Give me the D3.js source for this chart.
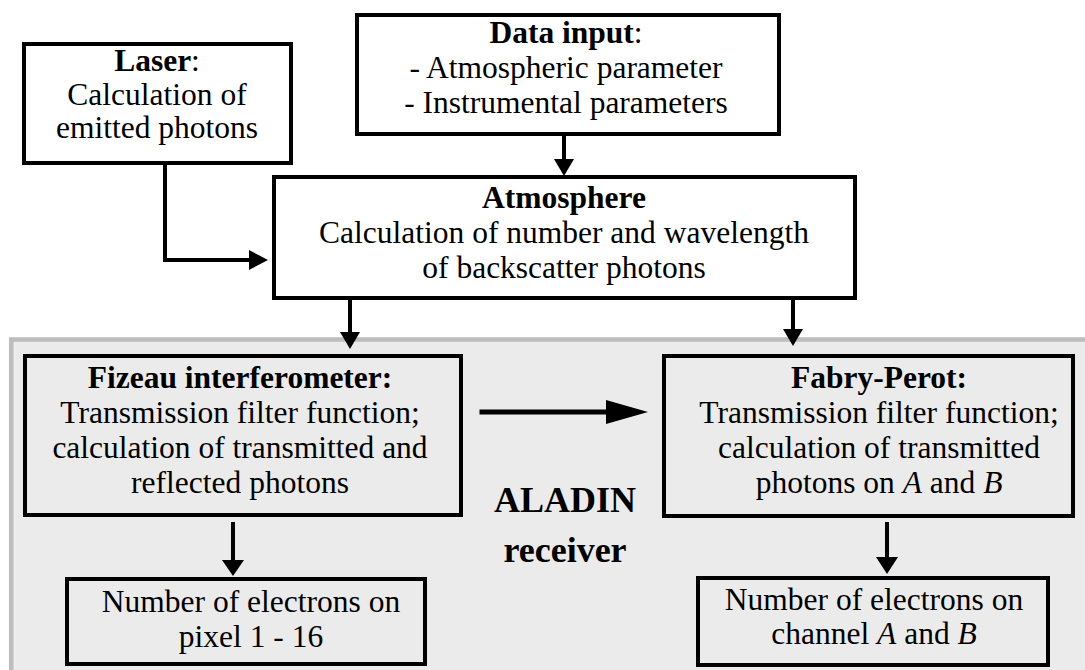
<!DOCTYPE html>
<html>
<head>
<meta charset="utf-8">
<script src="https://cdn.jsdelivr.net/npm/d3@7"></script>
<style>
  html, body { margin: 0; padding: 0; background: #fff; }
  svg { display: block; }
</style>
</head>
<body>
<svg id="chart" width="1085" height="670"></svg>
<script>
// boxes of the flow chart (** = bold, * = italic)
var boxIds = ["laser", "data", "atm", "fizeau", "fp", "pixel", "channel"];
var boxLines = {
	"laser":   ["**Laser**:", "Calculation of", "emitted photons"],
	"data":    ["**Data input**:", "- Atmospheric parameter", "- Instrumental parameters"],
	"atm":     ["**Atmosphere**", "Calculation of number and wavelength", "of backscatter photons"],
	"fizeau":  ["**Fizeau interferometer:**", "Transmission filter function;", "calculation of transmitted and", "reflected photons"],
	"fp":      ["**Fabry-Perot:**", "Transmission filter function;", "calculation of transmitted", "photons on *A* and *B*"],
	"pixel":   ["Number of electrons on", "pixel 1 - 16"],
	"channel": ["Number of electrons on", "channel *A* and *B*"]
};
var receiverBox = ["fizeau", "fp", "pixel", "channel"];
var links = [
	["data", "atm"],
	["laser", "atm"],
	["atm", "fizeau"],
	["atm", "fp"],
	["fizeau", "fp"],
	["fizeau", "pixel"],
	["fp", "channel"]
];
var groupLabel = ["ALADIN", "receiver"];

var FONT = "'Liberation Serif', Tinos, 'Times New Roman', Times, serif";

// layout (outer edges of the boxes, text centre, first baseline)
var layout = {
	"laser":   {x0: 22,  y0: 42,  x1: 293,  y1: 165, cx: 157, base: 71,  step: 33.5},
	"data":    {x0: 355, y0: 13,  x1: 781,  y1: 136, cx: 566, base: 43,  step: 35},
	"atm":     {x0: 272, y0: 175, x1: 857,  y1: 300, cx: 564, base: 208, step: 35},
	"fizeau":  {x0: 23,  y0: 354, x1: 463,  y1: 517, cx: 240, base: 388, step: 35},
	"fp":      {x0: 662, y0: 354, x1: 1075, y1: 518, cx: 879, base: 388, step: 35},
	"pixel":   {x0: 65,  y0: 577, x1: 427,  y1: 666, cx: 251, base: 612, step: 35},
	"channel": {x0: 696, y0: 576, x1: 1050, y1: 667, cx: 874, base: 610, step: 34}
};
var routes = {
	"data-atm":      {pts: [[564, 136], [564, 176]], head: [17, 10]},
	"laser-atm":     {pts: [[165, 165], [165, 260], [268, 260]], head: [19, 10]},
	"atm-fizeau":    {pts: [[350, 300], [350, 349]], head: [17, 10]},
	"atm-fp":        {pts: [[793, 300], [793, 346]], head: [17, 10]},
	"fizeau-fp":     {pts: [[482, 412], [648, 412]], head: [42, 12]},
	"fizeau-pixel":  {pts: [[233, 524], [233, 576]], head: [16, 11]},
	"fp-channel":    {pts: [[887, 524], [887, 574]], head: [17, 11]}
};

var svg = d3.select("#chart");

// grey ALADIN receiver area
svg.append("rect")
	.attr("x", 11.2).attr("y", 339.5)
	.attr("width", 1200).attr("height", 500)
	.attr("fill", "#ebebeb")
	.attr("stroke", "#bdbdbd")
	.attr("stroke-width", 4.5);

// boxes
var sw = 4;
var boxes = svg.selectAll("g.box")
	.data(boxIds)
	.enter().append("g")
	.attr("class", "box");

boxes.append("rect")
	.attr("x", function(d) { return layout[d].x0 + sw / 2; })
	.attr("y", function(d) { return layout[d].y0 + sw / 2; })
	.attr("width", function(d) { return layout[d].x1 - layout[d].x0 - sw; })
	.attr("height", function(d) { return layout[d].y1 - layout[d].y0 - sw; })
	.attr("fill", function(d) { return receiverBox.indexOf(d) >= 0 ? "#ebebeb" : "#fff"; })
	.attr("stroke", "#000")
	.attr("stroke-width", sw);

function addLine(textSel, str) {
	// split on **bold** and *italic*
	var parts = str.split(/(\*\*[^*]+\*\*|\*[^*]+\*)/).filter(function(p) { return p.length > 0; });
	parts.forEach(function(p) {
		var ts = textSel.append("tspan");
		if(p.indexOf("**") == 0) {
			ts.text(p.slice(2, -2)).attr("font-weight", "bold");
		} else if(p.indexOf("*") == 0) {
			ts.text(p.slice(1, -1)).attr("font-style", "italic");
		} else {
			ts.text(p);
		}
	});
}

boxes.each(function(id) {
	var g = d3.select(this);
	var L = layout[id];
	boxLines[id].forEach(function(line, i) {
		var t = g.append("text")
			.attr("x", L.cx)
			.attr("y", L.base + i * L.step)
			.attr("text-anchor", "middle")
			.attr("font-family", FONT)
			.attr("font-size", "31.5px")
			.attr("fill", "#000")
			.style("white-space", "pre");
		addLine(t, line);
	});
});

// arrows
var lineGen = d3.line();
links.forEach(function(lk) {
	var r = routes[lk[0] + "-" + lk[1]];
	var pts = r.pts.map(function(p) { return p.slice(); });
	var n = pts.length;
	var tip = pts[n - 1], prev = pts[n - 2];
	var dx = tip[0] - prev[0], dy = tip[1] - prev[1];
	var len = Math.sqrt(dx * dx + dy * dy);
	var ux = dx / len, uy = dy / len;
	var hl = r.head[0], hw = r.head[1];
	var base = [tip[0] - ux * hl, tip[1] - uy * hl];
	var linePts = pts.slice(0, n - 1).concat([[base[0] + ux * 1, base[1] + uy * 1]]);
	svg.append("path")
		.attr("d", lineGen(linePts))
		.attr("fill", "none")
		.attr("stroke", "#000")
		.attr("stroke-width", lk[0] == "fizeau" && lk[1] == "fp" ? 5 : 4)
		.attr("stroke-linejoin", "miter")
		.attr("stroke-linecap", "square");
	svg.append("path")
		.attr("d", lineGen([
			tip,
			[base[0] - uy * hw, base[1] + ux * hw],
			[base[0] + uy * hw, base[1] - ux * hw]
		]) + "Z")
		.attr("fill", "#000");
});

// group label
svg.selectAll("text.group")
	.data(groupLabel)
	.enter().append("text")
	.attr("class", "group")
	.attr("x", 565)
	.attr("y", function(d, i) { return 512 + i * 50; })
	.attr("text-anchor", "middle")
	.attr("font-family", FONT)
	.attr("font-size", "36px")
	.attr("font-weight", "bold")
	.attr("fill", "#000")
	.text(function(d) { return d; });
</script>
</body>
</html>
